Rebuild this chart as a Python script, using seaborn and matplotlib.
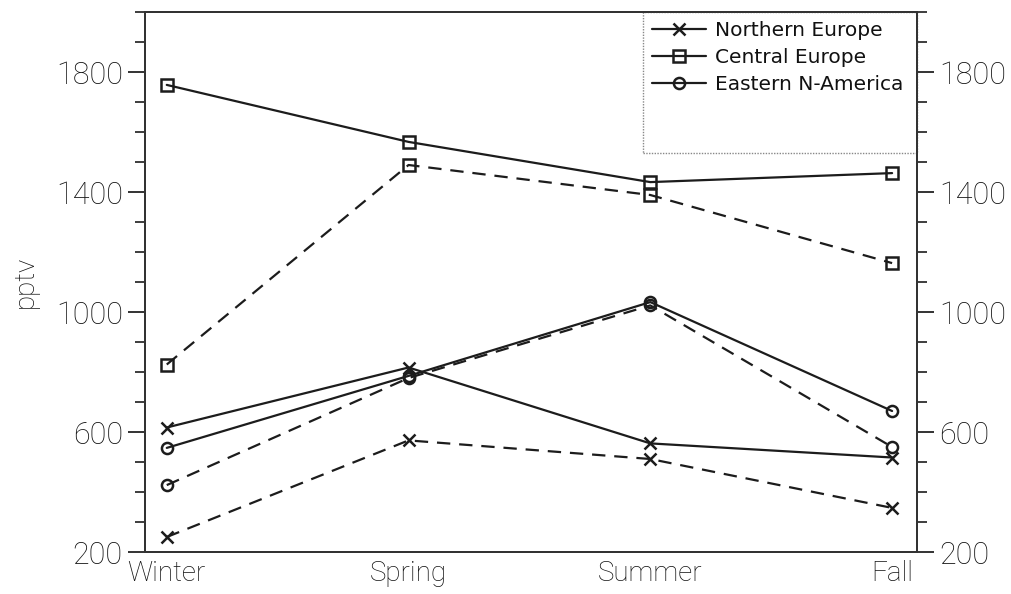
import matplotlib
matplotlib.use("Agg")
import matplotlib.pyplot as plt
import seaborn as sns
from matplotlib.patches import Rectangle
from matplotlib.lines import Line2D
from matplotlib.ticker import MultipleLocator

# Seasonal mixing ratios (pptv) per region; solid and dashed curves
seasons = ["Winter", "Spring", "Summer", "Fall"]
regions = ["Northern Europe", "Central Europe", "Eastern N-America"]
north_solid = [615, 815, 562, 515]
north_dashed = [250, 572, 510, 347]
central_solid = [1757, 1567, 1433, 1463]
central_dashed = [825, 1490, 1390, 1163]
eastam_solid = [547, 787, 1033, 670]
eastam_dashed = [423, 780, 1022, 550]
y_ticks = [200, 600, 1000, 1400, 1800]

sns.set_style("ticks")
plt.rcParams["font.family"] = ["Roboto", "Liberation Sans", "DejaVu Sans"]
plt.rcParams["font.weight"] = "light"

ink = "#1c1c1c"
text_ink = "#111111"
fig = plt.figure(figsize=(10.11, 5.94), dpi=100)
ax = fig.add_axes([145 / 1011, 1 - 552 / 594, 772 / 1011, 540 / 594])

markers = ["x", "s", "o"]
series = [(north_solid, north_dashed), (central_solid, central_dashed),
          (eastam_solid, eastam_dashed)]

for marker, (solid, dashed) in zip(markers, series):
    for vals, dashed_style in ((solid, False), (dashed, True)):
        sns.lineplot(x=seasons, y=vals, ax=ax, color=ink, linewidth=1.6,
                     marker=marker, markersize=9 if marker == "x" else 8,
                     markerfacecolor="none", markeredgecolor=ink,
                     markeredgewidth=1.8, legend=False)
        if dashed_style:
            ax.lines[-1].set_dashes((6, 4))

ax.set_xlim(-0.09, 3.103)
ax.set_ylim(200, 2000)
ax.set_yticks(y_ticks)
ax.yaxis.set_minor_locator(MultipleLocator(100))
ax.set_xlabel("")
ax.set_ylabel("pptv", fontsize=20, color=text_ink, labelpad=12,
              fontweight="light")

for spine in ax.spines.values():
    spine.set_visible(True)
    spine.set_linewidth(1.4)
    spine.set_color("#333333")

ax.tick_params(axis="x", length=0, labelsize=20, pad=6, colors=text_ink)
ax.tick_params(axis="y", which="major", length=12, width=1.2,
               direction="out", labelsize=22, pad=4, colors=text_ink)
ax.tick_params(axis="y", which="minor", length=7, width=1.2, direction="out",
               colors=ink)

ax2 = ax.twinx()
ax2.set_ylim(ax.get_ylim())
ax2.set_yticks(y_ticks)
ax2.yaxis.set_minor_locator(MultipleLocator(100))
for spine in ax2.spines.values():
    spine.set_visible(True)
    spine.set_linewidth(1.4)
    spine.set_color("#333333")
ax2.tick_params(axis="y", which="major", length=12, width=1.2,
                direction="out", labelsize=22, pad=4, colors=text_ink)
ax2.tick_params(axis="y", which="minor", length=7, width=1.2, direction="out",
                colors=ink)

# Legend with a dotted frame in the upper-right corner
handles = [Line2D([], [], color=ink, linewidth=1.6, marker=m,
                  markersize=9 if m == "x" else 8, markerfacecolor="none",
                  markeredgecolor=ink, markeredgewidth=1.8)
           for m in markers]
leg = ax.legend(handles, regions, loc="upper left",
                bbox_to_anchor=(0.645, 1.0), frameon=False,
                prop={"family": ["DejaVu Sans"], "size": 14.5,
                      "weight": "normal"},
                handlelength=2.7, handletextpad=0.45, labelspacing=0.4,
                borderpad=0.45, borderaxespad=0.0)
for t in leg.get_texts():
    t.set_color(text_ink)
ax.add_patch(Rectangle((0.645, 0.739), 0.355, 0.261, transform=ax.transAxes,
                       facecolor="none", edgecolor="#888888", linewidth=1.0,
                       linestyle=(0, (1, 1)), zorder=5, clip_on=False))

fig.savefig("out.png", dpi=100)
